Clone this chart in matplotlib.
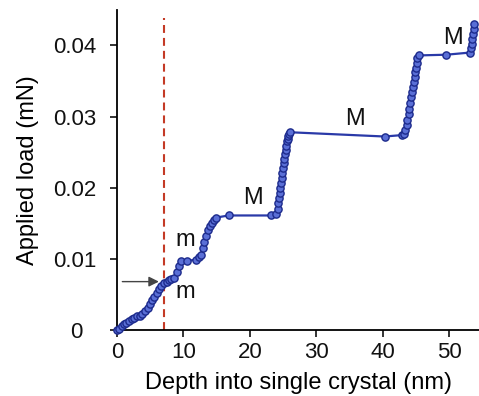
import matplotlib
matplotlib.use("Agg")
import matplotlib.pyplot as plt
import matplotlib.transforms as mtransforms

plt.rcParams['font.family'] = ['Liberation Sans', 'DejaVu Sans']

# indentation depth (nm) and applied load (mN)
depth = [0.0, 0.3, 0.7, 1.0, 1.4, 1.8, 2.2, 2.6, 3.0, 3.4, 3.8, 4.2, 4.6, 4.9,
         5.3, 5.6, 6.0, 6.3, 6.6, 7.1, 7.5, 7.8, 8.2, 8.6, 9.0, 9.3, 9.6, 10.5,
         11.9, 12.3, 12.6, 12.9, 13.1, 13.4, 13.7, 14.0, 14.3, 14.6, 14.9, 16.8,
         23.2, 24.0, 24.2, 24.3, 24.4, 24.5, 24.6, 24.7, 24.8, 24.9, 25.0, 25.1,
         25.2, 25.3, 25.4, 25.5, 25.6, 25.7, 25.8, 25.9, 26.0,
         40.3, 42.9, 43.2, 43.4, 43.6, 43.7, 43.9, 44.0, 44.1, 44.3, 44.4, 44.5,
         44.7, 44.8, 44.9, 45.0, 45.1, 45.2, 45.4,
         49.6, 53.1, 53.3, 53.4, 53.5, 53.6, 53.7, 53.8]
load = [0.0000, 0.0002, 0.0005, 0.0008, 0.0010, 0.0013, 0.0015, 0.0017, 0.0019,
        0.0020, 0.0022, 0.0026, 0.0031, 0.0036, 0.0042, 0.0047, 0.0052, 0.0057,
        0.0062, 0.0066, 0.0068, 0.0070, 0.0071, 0.0073, 0.0082, 0.0090, 0.0097,
        0.0097, 0.0099, 0.0103, 0.0106, 0.0115, 0.0123, 0.0132, 0.0141, 0.0146,
        0.0151, 0.0155, 0.0158, 0.0161,
        0.0161, 0.0163, 0.0170, 0.0178, 0.0186, 0.0193, 0.0200, 0.0207, 0.0214,
        0.0221, 0.0228, 0.0235, 0.0241, 0.0247, 0.0253, 0.0259, 0.0265, 0.0269,
        0.0273, 0.0276, 0.0278,
        0.0272, 0.0274, 0.0276, 0.0281, 0.0288, 0.0295, 0.0303, 0.0311, 0.0319,
        0.0327, 0.0334, 0.0341, 0.0348, 0.0355, 0.0362, 0.0369, 0.0376, 0.0382,
        0.0386,
        0.0387, 0.0390, 0.0396, 0.0402, 0.0409, 0.0416, 0.0423, 0.0430]

# annotations: (text, x, y)
labels = [("M", 20.4, 0.0186), ("M", 35.8, 0.0296), ("M", 50.6, 0.0411),
          ("m", 10.3, 0.0127), ("m", 10.3, 0.0053)]
pop_in_depth = 7.0

fig = plt.figure(figsize=(4.79, 3.96), dpi=100)
ax = fig.add_axes([0.2443, 0.1667, 0.7557, 0.8083])

ax.axvline(pop_in_depth, ymin=0, ymax=0.975, color='#c43a26', lw=1.5,
           dashes=(3.8, 2.4))
ax.plot(depth, load, '-o', color='#2a3aa8', lw=1.6, ms=5.2,
        mfc='#5a6fd6', mec='#1c2a8c', mew=1.0, clip_on=False, zorder=3)

for t, x, y in labels:
    ax.text(x, y, t, fontsize=17, ha='center', va='center', color='#111111')

ax.annotate('', xy=(6.3, 0.0068), xytext=(0.8, 0.0068),
            arrowprops=dict(arrowstyle='-|>', color='#444444', lw=1.0,
                            mutation_scale=15, shrinkA=0, shrinkB=0))

ax.set_xlim(0, 54.5)
ax.set_ylim(0, 0.045)
ax.set_xticks([0, 10, 20, 30, 40, 50])
ax.set_yticks([0, 0.01, 0.02, 0.03, 0.04])
ax.set_yticklabels(['0', '0.01', '0.02', '0.03', '0.04'])
ax.tick_params(labelsize=16, length=5, width=1.2, pad=4, colors='#111111')
ax.tick_params(axis='y', pad=10)
ax.spines['top'].set_visible(False)
ax.spines['right'].set_visible(False)
for s in ('left', 'bottom'):
    ax.spines[s].set_linewidth(1.3)

# the zero label sits centred under the other y labels
zero = ax.get_yticklabels()[0]
zero.set_transform(zero.get_transform() +
                   mtransforms.ScaledTranslation(-0.14, 0, fig.dpi_scale_trans))

ax.set_xlabel('Depth into single crystal (nm)', fontsize=17, labelpad=6)
ax.set_ylabel('Applied load (mN)', fontsize=17, labelpad=10)

fig.savefig('out.png', dpi=100)
